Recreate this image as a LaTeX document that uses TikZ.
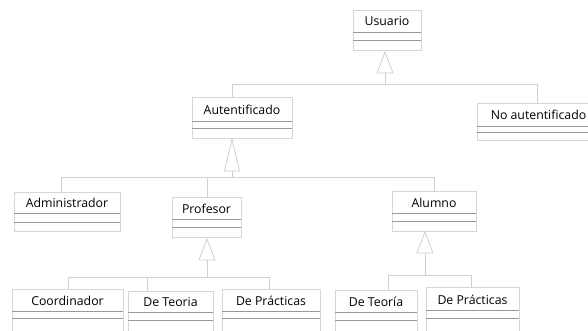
\documentclass[tikz,border=0pt]{standalone}
\usepackage{fontspec}
\setmainfont{Open Sans}
\usetikzlibrary{calc}
\definecolor{boxgray}{HTML}{D6D6D6}
\definecolor{linkgray}{HTML}{D0D0D0}
\definecolor{sepgray}{HTML}{999999}
\tikzset{
  clsbox/.style={draw=boxgray, line width=0.8pt, anchor=north west, inner sep=0pt, fill=white},
  clstext/.style={anchor=base, inner sep=0pt, font=\fontsize{12.3}{14}\selectfont, text=black},
  sepline/.style={draw=sepgray, line width=0.8pt},
  link/.style={draw=linkgray, line width=0.8pt},
  gentri/.style={draw=linkgray, line width=0.8pt, fill=white, line join=miter}
}
% #1 name, #2 left, #3 top, #4 right, #5 bottom, #6 line1, #7 line2, #8 text
\newcommand{\umlclass}[8]{%
  \node[clsbox, minimum width={(#4-#2)*1pt}, minimum height={(#5-#3)*1pt}] (#1) at (#2,#3) {};
  \draw[sepline] (#2,#6) -- (#4,#6);
  \draw[sepline] (#2,#7) -- (#4,#7);
  \node[clstext] (#1-t) at ({(#2+#4)/2},{#6-6}) {#8};
}
% generalization triangle: #1 name, #2 x, #3 apex y, #4 base y, #5 half width
\newcommand{\gentriangle}[5]{%
  \coordinate (#1-apex) at (#2,#3);
  \coordinate (#1-base) at (#2,#4);
  \draw[gentri] (#1-apex) -- ({#2+#5},#4) -- ({#2-#5},#4) -- cycle;
}
\begin{document}
\begin{tikzpicture}[x=1pt,y=-1pt]
\useasboundingbox (0,0) rectangle (588,331);
\clip (0,0) rectangle (588,331);
\fill[white] (0,0) rectangle (588,331);

% classes
\umlclass{usuario}{353}{10}{421}{50}{32}{40}{Usuario}
\umlclass{autent}{192}{97}{292}{138}{121}{128}{Autentificado}
\umlclass{noaut}{477}{103}{600}{140}{126}{132}{No autentificado}
\umlclass{admin}{14}{192}{120}{231}{213}{222}{Administrador}
\umlclass{prof}{172}{197}{241}{237}{219}{227}{Profesor}
\umlclass{alumno}{392}{191}{476}{231}{213}{221}{Alumno}
\umlclass{coord}{12}{289}{123}{340}{311}{318}{Coordinador}
\umlclass{pteo}{128}{291}{213}{340}{312}{320}{De Teoria}
\umlclass{pprac}{222}{289}{320}{340}{311}{318}{De Prácticas}
\umlclass{ateo}{335}{290}{417}{340}{312}{320}{De Teoría}
\umlclass{aprac}{426}{287}{519}{340}{310}{318}{De Prácticas}

% junction coordinates
\coordinate (j1) at (385,84);
\coordinate (j2) at (232,177);
\coordinate (j3) at (207,277);
\coordinate (j4) at (425,275);

% Usuario hierarchy
\gentriangle{t1}{385}{52}{73}{8}
\draw[link] (t1-base) -- (j1);
\draw[link] ($(autent.north west)+(40,0)$) |- (j1);
\draw[link] (j1) -| ($(noaut.north west)+(60,0)$);

% Autentificado hierarchy
\gentriangle{t2}{232}{139}{171}{7.5}
\draw[link] (t2-base) -- (j2);
\draw[link] ($(admin.north west)+(47,0)$) |- (j2);
\draw[link] (prof.north) |- (j2);
\draw[link] (j2) -| (alumno.north);

% Profesor hierarchy
\gentriangle{t3}{207}{239}{260}{8}
\draw[link] (t3-base) -- (j3);
\draw[link] ($(coord.north west)+(56,0)$) |- (j3);
\draw[link] ($(pteo.north west)+(19,0)$) |- (j3);
\draw[link] (j3) -| ($(pprac.north west)+(47,0)$);

% Alumno hierarchy
\gentriangle{t4}{425}{232}{253}{8}
\draw[link] (t4-base) -- (j4);
\draw[link] ($(ateo.north west)+(53,0)$) |- (j4);
\draw[link] (j4) -| ($(aprac.north west)+(45,0)$);
\end{tikzpicture}
\end{document}
